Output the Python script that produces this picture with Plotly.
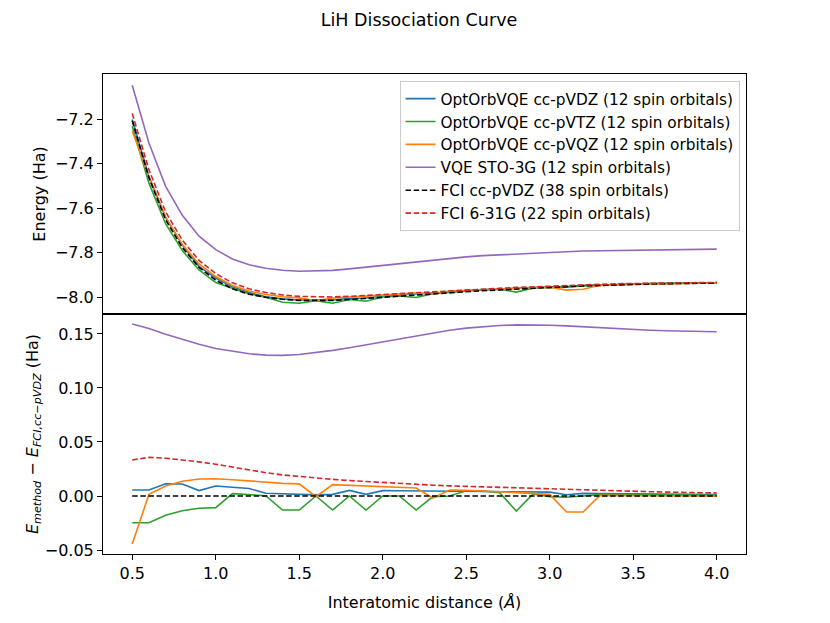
import plotly.graph_objects as go
from plotly.subplots import make_subplots

# interatomic distance (angstrom)
distance = [0.5, 0.6, 0.7, 0.8, 0.9, 1.0, 1.1, 1.2, 1.3, 1.4, 1.5, 1.6,
            1.7, 1.8, 1.9, 2.0, 2.1, 2.2, 2.3, 2.4, 2.5, 2.6, 2.7, 2.8,
            2.9, 3.0, 3.1, 3.2, 3.3, 3.4, 3.5, 3.6, 3.7, 3.8, 3.9, 4.0]

# FCI cc-pVDZ reference energy (Ha)
e_fci_dz = [-7.208, -7.463, -7.652, -7.777, -7.866, -7.923, -7.962, -7.986,
            -8.000, -8.009, -8.014, -8.015, -8.014, -8.010, -8.005, -7.999,
            -7.994, -7.988, -7.983, -7.978, -7.974, -7.970, -7.967, -7.963,
            -7.960, -7.956, -7.953, -7.949, -7.947, -7.944, -7.942, -7.940,
            -7.939, -7.938, -7.937, -7.936]

# energy above the reference for every method (Ha)
d_oo_dz = [0.0056, 0.0056, 0.0114, 0.0111, 0.0050, 0.0093, 0.0081, 0.0069,
           0.0025, 0.0019, 0.0015, 0.0010, 0.0015, 0.0052, 0.0015, 0.0050,
           0.0049, 0.0048, 0.0046, 0.0043, 0.0042, 0.0041, 0.0040, 0.0039,
           0.0037, 0.0036, 0.0012, 0.0024, 0.0022, 0.0020, 0.0019, 0.0018,
           0.0016, 0.0015, 0.0014, 0.0013]
d_oo_tz = [-0.0247, -0.0247, -0.0178, -0.0136, -0.0114, -0.0108, 0.0022, 0.0015,
           0.0003, -0.0130, -0.0130, 0.0000, -0.0130, 0.0000, -0.0130, 0.0000,
           0.0000, -0.0130, -0.0006, 0.0000, 0.0048, 0.0046, 0.0030, -0.0139,
           0.0019, -0.0006, -0.0012, 0.0000, 0.0015, 0.0013, 0.0012, 0.0011,
           0.0010, 0.0009, 0.0008, 0.0007]
d_oo_qz = [-0.0444, 0.0015, 0.0093, 0.0136, 0.0157, 0.0160, 0.0151, 0.0139,
           0.0127, 0.0117, 0.0112, -0.0006, 0.0105, 0.0099, 0.0093, 0.0087,
           0.0080, 0.0074, -0.0019, 0.0056, 0.0053, 0.0049, 0.0039, 0.0031,
           0.0025, 0.0015, -0.0148, -0.0148, 0.0006, 0.0004, 0.0003, 0.0002,
           0.0001, 0.0000, -0.0002, -0.0003]
d_vqe_sto = [0.1593, 0.1550, 0.1497, 0.1447, 0.1404, 0.1366, 0.1339, 0.1317,
             0.1304, 0.1302, 0.1310, 0.1326, 0.1348, 0.1373, 0.1400, 0.1429,
             0.1457, 0.1484, 0.1509, 0.1534, 0.1554, 0.1568, 0.1579, 0.1584,
             0.1584, 0.1581, 0.1575, 0.1566, 0.1557, 0.1548, 0.1541, 0.1535,
             0.1530, 0.1526, 0.1523, 0.1521]
d_fci_631g = [0.0333, 0.0358, 0.0350, 0.0335, 0.0316, 0.0294, 0.0267, 0.0241,
              0.0216, 0.0195, 0.0180, 0.0167, 0.0154, 0.0143, 0.0133, 0.0124,
              0.0115, 0.0107, 0.0100, 0.0094, 0.0089, 0.0084, 0.0079, 0.0074,
              0.0069, 0.0064, 0.0059, 0.0055, 0.0051, 0.0047, 0.0043, 0.0040,
              0.0036, 0.0033, 0.0030, 0.0028]

series = [
    ("OptOrbVQE cc-pVDZ (12 spin orbitals)", d_oo_dz, "#1f77b4", "solid"),
    ("OptOrbVQE cc-pVTZ (12 spin orbitals)", d_oo_tz, "#2ca02c", "solid"),
    ("OptOrbVQE cc-pVQZ (12 spin orbitals)", d_oo_qz, "#ff7f0e", "solid"),
    ("VQE STO-3G (12 spin orbitals)", d_vqe_sto, "#9467bd", "solid"),
    ("FCI cc-pVDZ (38 spin orbitals)", [0.0] * len(distance), "black", "5.5px,2.6px"),
    ("FCI 6-31G (22 spin orbitals)", d_fci_631g, "#d62728", "5.5px,2.6px"),
]

fig = make_subplots(rows=2, cols=1, shared_xaxes=True, vertical_spacing=0)

for name, delta, color, dash in series:
    energy = [e + d for e, d in zip(e_fci_dz, delta)]
    line = dict(color=color, width=1.6, dash=dash)
    fig.add_trace(go.Scatter(x=distance, y=energy, mode="lines", name=name,
                             line=line), row=1, col=1)
    fig.add_trace(go.Scatter(x=distance, y=delta, mode="lines", name=name,
                             line=line, showlegend=False), row=2, col=1)

font = "DejaVu Sans, Arial, sans-serif"
axis = dict(showline=True, linecolor="black", linewidth=1.1, mirror=True,
            showgrid=False, zeroline=False, ticks="outside", ticklen=5,
            tickwidth=1.1, tickcolor="black",
            tickfont=dict(size=16, color="black"))

fig.update_xaxes(**axis, range=[0.325, 4.175], tickvals=[0.5, 1.0, 1.5, 2.0, 2.5, 3.0, 3.5, 4.0],
                 tickformat=".1f")
fig.update_xaxes(ticks="", row=1, col=1)
fig.update_xaxes(title=dict(text="Interatomic distance (<i>Å</i>)", font=dict(size=16, color="black"),
                            standoff=14), row=2, col=1)
fig.update_yaxes(**axis)
fig.update_yaxes(range=[-8.075, -6.998], tickvals=[-8.0, -7.8, -7.6, -7.4, -7.2],
                 tickformat=".1f",
                 title=dict(text="Energy (Ha)", font=dict(size=16, color="black"), standoff=5),
                 row=1, col=1)
fig.update_yaxes(range=[-0.0537, 0.1685], tickvals=[-0.05, 0.0, 0.05, 0.10, 0.15],
                 tickformat=".2f",
                 title=dict(text="<i>E<sub>method</sub></i> − <i>E<sub>FCI,cc−pVDZ</sub></i> (Ha)",
                            font=dict(size=16, color="black"), standoff=2),
                 row=2, col=1)

# the page adds an 8px body margin, so the figure is drawn 8px smaller
fig.update_layout(
    width=822, height=615,
    margin=dict(l=95, r=84, t=66, b=69),
    paper_bgcolor="white", plot_bgcolor="white",
    font=dict(family=font, color="black"),
    title=dict(text="LiH Dissociation Curve", x=0.5, xanchor="center", y=0.981,
               yanchor="middle", font=dict(size=17.5, color="black")),
    legend=dict(x=0.99, y=0.985, xanchor="right", yanchor="top",
                bgcolor="rgba(255,255,255,0.8)", bordercolor="#cccccc", borderwidth=1,
                font=dict(size=15.3, color="black"), tracegroupgap=0),
    showlegend=True,
)

fig.write_html("out.html")
